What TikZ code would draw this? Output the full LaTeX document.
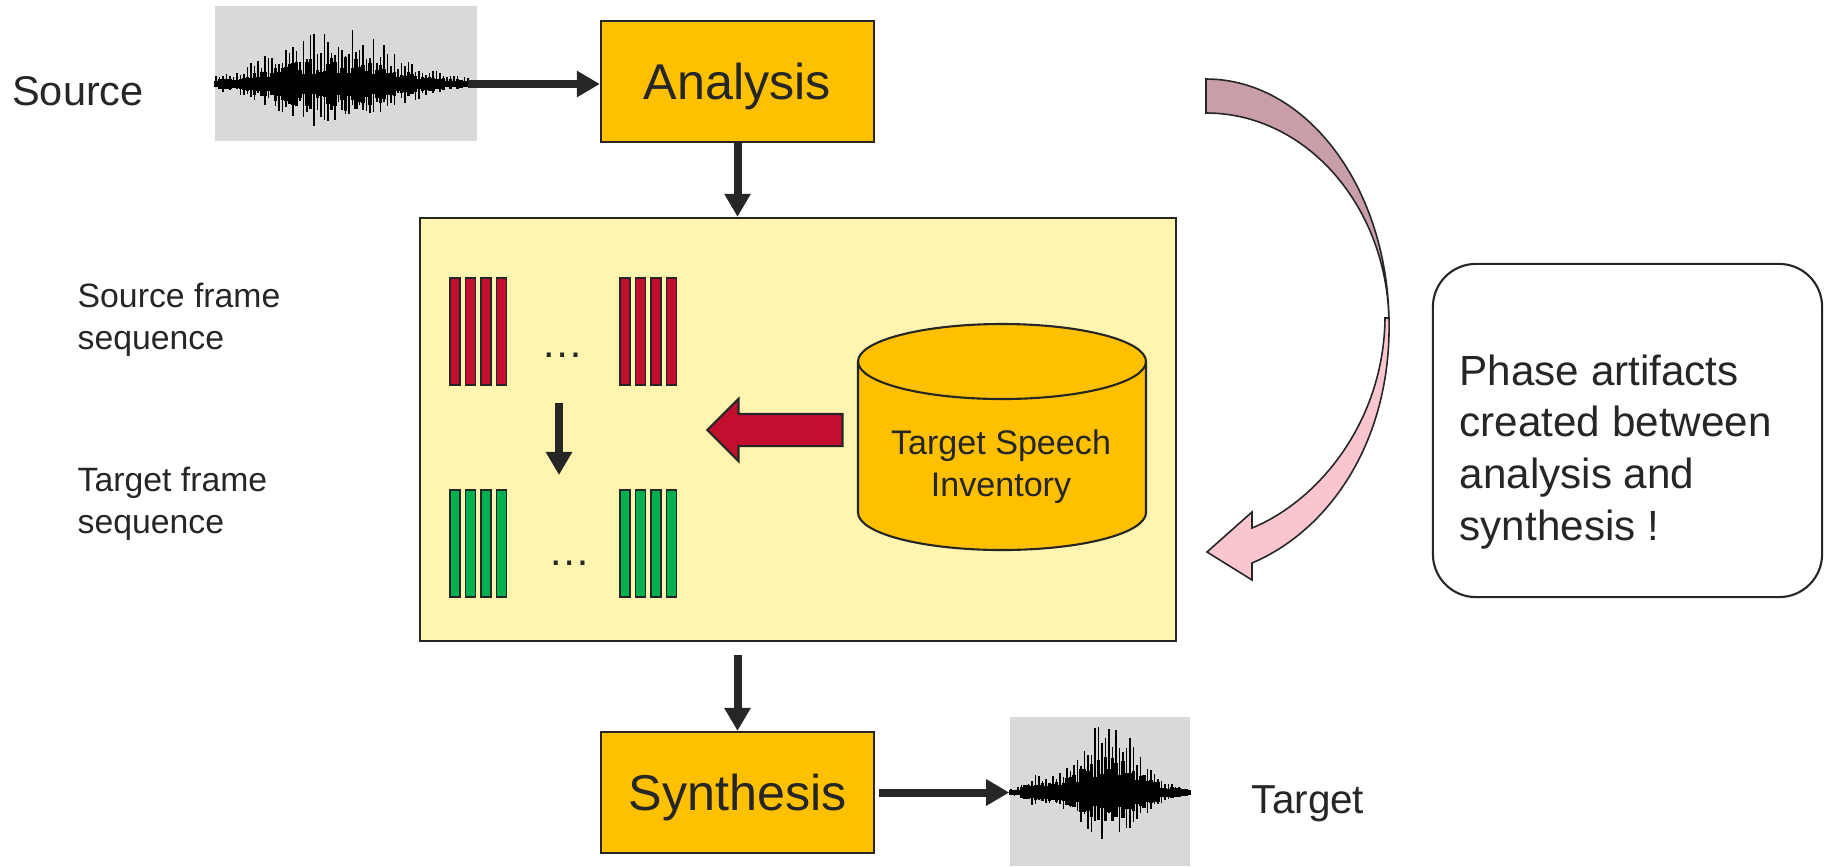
\documentclass[tikz,border=0pt]{standalone}
\usepackage{fontspec}
\setmainfont{Liberation Sans}
\usepackage{xcolor}
\usetikzlibrary{arrows.meta,positioning,calc,shapes.arrows}

\definecolor{stagefill}{HTML}{FFC000}
\definecolor{panelfill}{HTML}{FFF5B0}
\definecolor{darkline}{HTML}{262626}
\definecolor{textgray}{HTML}{262626}
\definecolor{wavegray}{HTML}{D9D9D9}
\definecolor{framered}{HTML}{C20E2F}
\definecolor{framegreen}{HTML}{00B050}
\definecolor{bendtop}{HTML}{CA9EA8}
\definecolor{bendlow}{HTML}{F9C6D0}

\begin{document}
\begin{tikzpicture}[
    x=0.01cm, y=-0.01cm,
    stage/.style={draw=darkline, line width=0.6pt, fill=stagefill, minimum width=2.73cm, minimum height=1.21cm, text depth=0pt, font=\fontsize{14.3}{17}\selectfont, text=textgray},
    wavebox/.style={fill=wavegray, inner sep=0pt},
    waveline/.style={line width=0.5pt, black},
    wavecore/.style={line width=1.1pt, black},
    flow/.style={-{Triangle[length=0.23cm,width=0.25cm]}, line width=0.08cm, darkline},
    framebar/.style={draw=darkline, line width=0.45pt, fill=#1},
    sidelabel/.style={font=\fontsize{9.6}{12}\selectfont, text=textgray, align=left, inner sep=0pt},
    biglabel/.style={font=\fontsize{#1}{14}\selectfont, text=textgray},
    dots/.style={font=\fontsize{12}{14}\selectfont, text=textgray},
    notebox/.style={draw=darkline, line width=0.6pt, rounded corners=0.43cm, minimum width=3.89cm, minimum height=3.33cm}
  ]
    \useasboundingbox (0,0) rectangle (1824,866);

    % waveforms
    \node[wavebox, minimum width=2.62cm, minimum height=1.35cm] (srcwav) at (346,73.5) {};
    \node[wavebox, minimum width=1.80cm, minimum height=1.49cm] (tgtwav) at (1100,791.5) {};
    \pgfmathsetseed{7}
    \foreach \k in {0,...,72} {
      \pgfmathsetmacro\wx{216+3.5*\k}
      \pgfmathsetmacro\u{(\wx-335)/78}
      \pgfmathsetmacro\env{57*exp(-(\u)*(\u))+3}
      \pgfmathsetmacro\up{\env*(0.45+0.55*rnd)}
      \pgfmathsetmacro\dn{\env*(0.25+0.5*rnd)}
      \pgfmathsetmacro\cr{\env*(0.15+0.3*rnd)+1.5}
      \draw[waveline] (\wx,84-\up) -- (\wx,84+\dn);
      \draw[wavecore] (\wx,84-\cr) -- (\wx,84+\cr);
    }
    \foreach \k in {0,...,51} {
      \pgfmathsetmacro\wx{1011+3.5*\k}
      \pgfmathsetmacro\u{(\wx-1108)/42}
      \pgfmathsetmacro\v{(\wx-1035)/14}
      \pgfmathsetmacro\env{70*exp(-(\u)*(\u))+14*exp(-(\v)*(\v))+3}
      \pgfmathsetmacro\up{\env*(0.5+0.5*rnd)}
      \pgfmathsetmacro\dn{\env*(0.25+0.4*rnd)}
      \pgfmathsetmacro\cr{\env*(0.2+0.3*rnd)+1.5}
      \draw[waveline] (\wx,793-\up) -- (\wx,793+\dn);
      \draw[wavecore] (\wx,793-\cr) -- (\wx,793+0.8*\cr);
    }

    \node[biglabel=11.8, anchor=base] (srclab) at (78,105) {Source};
    \node[biglabel=11.5, anchor=base] (tgtlab) at (1308,813) {Target};

    \node[stage] (ana) at (737.5,81.5) {Analysis};
    \node[stage] (syn) at (737.5,792.5) {Synthesis};

    \node[draw=darkline, line width=0.6pt, fill=panelfill, minimum width=7.56cm, minimum height=4.23cm] (panel) at (798,429.5) {};

    \node[sidelabel, anchor=north west] (srcseq) at (77,282) {Source frame\\sequence};
    \node[sidelabel, anchor=north west] (tgtseq) at (77,466) {Target frame\\sequence};

    % frame sequences
    \foreach \gx in {450,620} {
      \foreach \b in {0,...,3} {
        \draw[framebar=framered] (\gx+15.5*\b,278) rectangle ++(10,107);
        \draw[framebar=framegreen] (\gx+15.5*\b,490) rectangle ++(10,107);
      }
    }
    \node[dots, anchor=base] (rdots) at (563,357) {…};
    \node[dots, anchor=base] (gdots) at (570,565) {…};
    \coordinate (mapin) at (559,403);
    \coordinate (mapout) at (559,475);
    \draw[flow] (mapin) -- (mapout);

    % inventory
    \draw[line width=0.6pt, draw=darkline, fill=stagefill] (858,361.5) -- (858,512.5)
      arc[start angle=180, end angle=0, x radius=144, y radius=37.5] -- (1146,361.5)
      arc[start angle=0, end angle=-180, x radius=144, y radius=37.5] -- cycle;
    \draw[line width=0.6pt, draw=darkline] (858,361.5) arc[start angle=180, end angle=0, x radius=144, y radius=37.5];
    \node[font=\fontsize{9.7}{12}\selectfont, text=textgray, align=center] (inv) at (1001,467) {Target Speech\\Inventory};

    \node[single arrow, shape border rotate=180, draw=darkline, line width=0.6pt, fill=framered,
      minimum height=1.35cm, inner xsep=0pt, inner ysep=0.15cm, single arrow head extend=0.15cm] (pull) at (783,430) {};

    % connectors
    \coordinate (srcend) at (468,84);
    \draw[flow] (srcend) -- (srcend -| ana.west);
    \draw[flow] (ana.south) -- (ana.south |- panel.north);
    \draw[flow] ($(panel.south -| syn.north)+(0,13)$) -- (syn.north);
    \draw[flow] ([xshift=0.04cm]syn.east) -- (syn.east -| tgtwav.west);

    % bent arrow
    \draw[line width=0.45pt, draw=darkline, fill=bendtop] (1206,79) .. controls (1307,79) and (1389,189) .. (1389,325)
      .. controls (1389,208) and (1307,113) .. (1206,113) -- cycle;
    \draw[line width=0.45pt, draw=darkline, fill=bendlow] (1389,318) .. controls (1392,440) and (1330,530) .. (1252,563)
      -- (1252,580) -- (1207,552) -- (1252,512) -- (1252,528)
      .. controls (1320,500) and (1384,420) .. (1385,318) -- cycle;

    \node[notebox] (note) at (1627.5,430.5) {};
    \node[font=\fontsize{12}{14.7}\selectfont, text=textgray, align=left, inner sep=0pt, anchor=north west] (notetxt) at (1459,354)
      {Phase artifacts\\created between\\analysis and\\synthesis !};
  \end{tikzpicture}
\end{document}
